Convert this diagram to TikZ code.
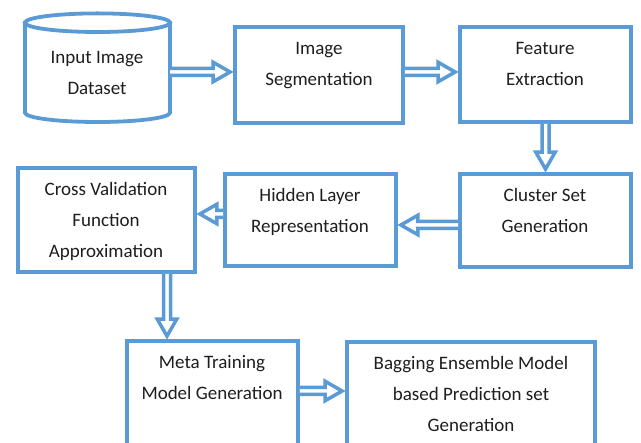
\documentclass[tikz,border=0pt]{standalone}
\usepackage{fontspec}
\setmainfont{Carlito}
\usetikzlibrary{calc}
\definecolor{boxblue}{HTML}{5B9BD5}
\definecolor{txt}{HTML}{1E1E1E}
\tikzset{
  box/.style={draw=boxblue, line width=3.8pt, fill=white, rectangle, inner sep=0pt},
  lbl/.style={anchor=base, align=center, inner sep=0pt, text=txt, font=\fontsize{19pt}{31pt}\selectfont},
  arrowline/.style={draw=boxblue, line width=3.5pt, fill=white, line join=miter},
}
\newcommand\blockarrow[2]{%
  \draw[arrowline] let \p1=(#1), \p2=(#2), \n1={atan2(\y2-\y1,\x2-\x1)}, \n2={veclen(\x2-\x1,\y2-\y1)} in
    [shift={(\p1)}, rotate=\n1]
    (0pt,3.5pt) -- ({\n2*1pt-20pt},3.5pt) -- ({\n2*1pt-20pt},9.75pt) -- ({\n2*1pt-3pt},0pt)
    -- ({\n2*1pt-20pt},-9.75pt) -- ({\n2*1pt-20pt},-3.5pt) -- (0pt,-3.5pt);}
\begin{document}
\begin{tikzpicture}[x=1pt,y=-1pt]
\useasboundingbox (0,0) rectangle (641,443);
\fill[white] (0,0) rectangle (641,443);
\clip (0,0) rectangle (641,443);

% cylinder
\node[minimum width=145pt, minimum height=112pt, inner sep=0pt] (inp) at (97.5,68) {};
\draw[draw=boxblue, line width=3.8pt, fill=white] (25,22.7) -- (25,112.7)
  arc[start angle=180, end angle=360, x radius=72.5pt, y radius=9.3pt] -- (170,22.7) -- cycle;
\draw[draw=boxblue, line width=3.8pt, fill=white] (97.5,22.7) ellipse [x radius=72.5pt, y radius=9.3pt];

% boxes
\node[box, minimum width=168pt, minimum height=96pt] (seg) at (319,75) {};
\node[box, minimum width=171pt, minimum height=95pt] (feat) at (545.5,74.5) {};
\node[box, minimum width=177pt, minimum height=104pt] (cv) at (106.5,220) {};
\node[box, minimum width=171pt, minimum height=92pt] (hid) at (310.5,220) {};
\node[box, minimum width=171pt, minimum height=93pt] (clus) at (545.5,220.5) {};
\node[box, minimum width=171pt, minimum height=119pt] (meta) at (212.5,400.5) {};
\node[box, minimum width=248pt, minimum height=118pt] (bag) at (471,401) {};

% labels (anchor = baseline of last line)
\node[lbl] (tinp) at (97,95) {Input Image\\Dataset};
\node[lbl] (tseg) at (319,86) {Image\\Segmentation};
\node[lbl] (tfeat) at (545,86) {Feature\\Extraction};
\node[lbl] (tcv) at (106,258) {Cross Validation\\Function\\Approximation};
\node[lbl] (thid) at (310,233) {Hidden Layer\\Representation};
\node[lbl] (tclus) at (545,233) {Cluster Set\\Generation};
\node[lbl] (tmeta) at (212,400) {Meta Training\\Model Generation};
\node[lbl] (tbag) at (471,432) {Bagging Ensemble Model\\based Prediction set\\Generation};

% arrows
\blockarrow{[yshift=-4pt]inp.east}{[yshift=-4pt]inp.east -| seg.west}
\blockarrow{[yshift=3pt]seg.east}{[yshift=3pt]seg.east -| feat.west}
\blockarrow{feat.south}{feat.south |- clus.north}
\blockarrow{[yshift=-4.5pt]clus.west}{[yshift=-4.5pt]clus.west -| hid.east}
\blockarrow{[yshift=6pt]hid.west}{[yshift=6pt]hid.west -| cv.east}
\blockarrow{[xshift=60.5pt]cv.south}{[xshift=60.5pt]cv.south |- meta.north}
\blockarrow{[yshift=9.5pt]meta.east}{[yshift=9.5pt]meta.east -| bag.west}
\end{tikzpicture}
\end{document}
